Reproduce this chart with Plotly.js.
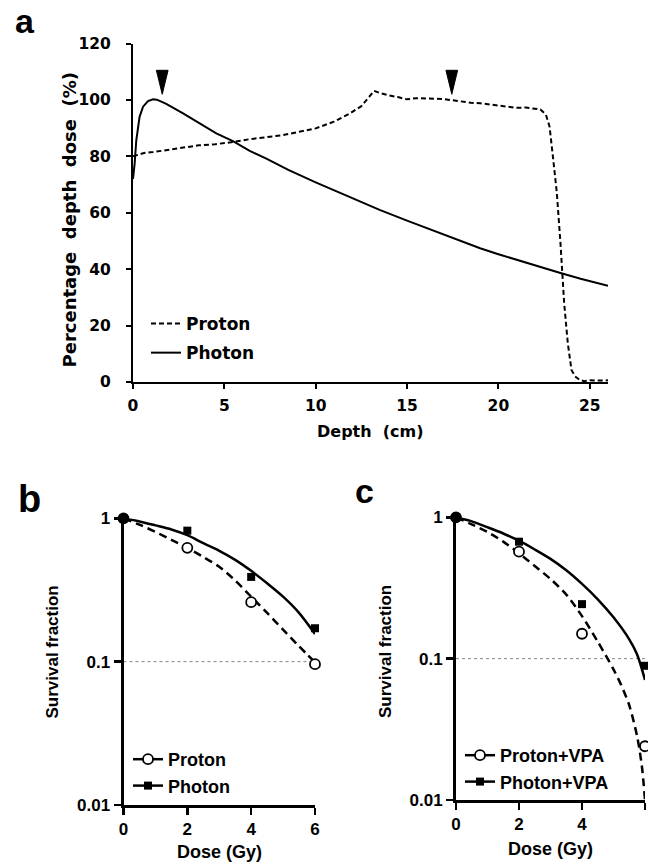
<!DOCTYPE html>
<html>
<head>
<meta charset="utf-8">
<script src="https://cdn.plot.ly/plotly-3.0.1.min.js"></script>
<style>html,body{margin:0;padding:0;background:#fff;}#chart{width:648px;height:862px;}</style>
</head>
<body>
<div id="chart"></div>
<script>
// ---------- Panel a: depth-dose data ----------
const protonDepth = [0, 0.3, 0.6, 1.1, 1.8, 2.7, 3.6, 4.5, 5.5, 6.4, 7.3, 8.2, 9.1, 10, 11, 11.9, 12.5, 12.9, 13.2, 13.5, 14, 14.5, 15, 15.5, 16, 16.5, 17, 17.5, 18, 18.5, 19, 19.5, 20, 20.5, 21, 21.5, 22, 22.3, 22.6, 22.8, 23.0, 23.2, 23.4, 23.6, 23.8, 24.0, 24.2, 24.45, 24.7, 25, 25.5, 26];
const protonDose  = [80, 80.5, 81.2, 81.5, 82.1, 83.1, 83.9, 84.3, 85.1, 86.1, 86.7, 87.5, 88.7, 89.9, 92.3, 95.3, 97.8, 101, 103.2, 102.5, 101.6, 101, 100.2, 100.6, 100.6, 100.4, 100.3, 99.8, 99.3, 99, 98.8, 98.4, 97.9, 97.5, 97.2, 97.3, 97.0, 96.6, 94.8, 90.6, 79, 67, 49, 28, 13.7, 4.3, 2, 0.7, 0.3, 0.6, 0.5, 0.6];
const photonDepth = [0, 0.09, 0.18, 0.36, 0.55, 0.82, 1.1, 1.3, 1.55, 1.82, 2.74, 3.65, 4.56, 5.47, 6.39, 7.3, 8.5, 10, 11.5, 12.5, 13.5, 15, 16.5, 18, 19, 20, 21.5, 22.5, 23.35, 24.5, 26];
const photonDose  = [72, 77.4, 85.7, 94, 97.6, 99.6, 100.2, 100.1, 99.4, 98.6, 95.2, 91.7, 88.1, 85.4, 81.9, 79.2, 75.2, 70.8, 66.5, 63.6, 61, 57.2, 53.6, 50, 47.4, 45.3, 42.3, 40.3, 38.7, 36.6, 34.1];
const arrowDepth = [1.6, 17.45];
const arrowTop = 110.5, arrowTip = 102;
const depthTicks = [0, 5, 10, 15, 20, 25];
const pddTicks = [0, 20, 40, 60, 80, 100, 120];

// ---------- Panels b, c: survival data ----------
const doseTicks = [0, 2, 4, 6];
const sfTicks = [0.01, 0.1, 1];
const sfTickText = ['0.01', '0.1', '1'];
const refLevel = 0.1;
const pointDose = [0, 2, 4, 6];
// b: measured points
const bProtonSF = [1, 0.622, 0.26, 0.096];
const bPhotonSF = [1, 0.82, 0.39, 0.171];
// b: fitted curves
const curveDose = [0, 0.5, 1, 1.5, 2, 2.5, 3, 3.5, 4, 4.5, 5, 5.5, 6];
const bProtonFit = [1, 0.902, 0.804, 0.708, 0.622, 0.537, 0.459, 0.368, 0.284, 0.219, 0.167, 0.128, 0.099];
const bPhotonFit = [1, 0.951, 0.893, 0.836, 0.762, 0.670, 0.593, 0.513, 0.430, 0.352, 0.284, 0.219, 0.156];
// c: measured points
const cProtonSF = [1, 0.571, 0.150, 0.024];
const cPhotonSF = [1, 0.672, 0.243, 0.089];
// c: fitted curves
const cProtonDose = [0, 0.5, 1, 1.5, 2, 2.5, 3, 3.5, 4, 4.5, 5, 5.25, 5.5, 5.75, 5.9, 6];
const cProtonFit  = [1, 0.891, 0.787, 0.673, 0.556, 0.452, 0.366, 0.284, 0.200, 0.132, 0.084, 0.0646, 0.0468, 0.0282, 0.0174, 0.01];
const cPhotonDose = [0, 0.5, 1, 1.5, 2, 2.5, 3, 3.5, 4, 4.5, 5, 5.5, 5.75, 6];
const cPhotonFit  = [1, 0.935, 0.850, 0.768, 0.683, 0.592, 0.508, 0.422, 0.338, 0.263, 0.196, 0.137, 0.107, 0.0707];

const W = 648, H = 862;
const px = x => x / W;
const py = y => 1 - y / H;
const fA = 'DejaVu Sans, sans-serif';
const fB = 'Liberation Sans, Arial, sans-serif';
const fontA = s => ({family: fA, size: s, color: '#000', weight: 700});
const fontB = s => ({family: fB, size: s, color: '#000', weight: 700});

// arrow triangles built from arrowDepth
const arrX = [], arrY = [];
arrowDepth.forEach(d => { arrX.push(d - 0.32, d + 0.32, d, d - 0.32, null); arrY.push(arrowTop, arrowTop, arrowTip, arrowTop, null); });

const traces = [
  {x: protonDepth, y: protonDose, name: 'Proton', mode: 'lines', line: {color: '#000', width: 2, dash: '5px,3px'}, xaxis: 'x', yaxis: 'y', legend: 'legend', legendgroup: 'a1', cliponaxis: false},
  {x: photonDepth, y: photonDose, name: 'Photon', mode: 'lines', line: {color: '#000', width: 2}, xaxis: 'x', yaxis: 'y', legend: 'legend', legendgroup: 'a2', cliponaxis: false},
  {x: arrX, y: arrY, mode: 'lines', fill: 'toself', fillcolor: '#000', line: {color: '#000', width: 1}, xaxis: 'x', yaxis: 'y', showlegend: false, hoverinfo: 'skip', cliponaxis: false},

  // panel b
  {x: [0, 6], y: [refLevel, refLevel], mode: 'lines', line: {color: '#888', width: 1, dash: 'dot'}, xaxis: 'x2', yaxis: 'y2', showlegend: false, hoverinfo: 'skip'},
  {x: curveDose, y: bProtonFit, mode: 'lines', line: {color: '#000', width: 2.5, dash: '8px,5px', shape: 'spline', smoothing: 0.8}, xaxis: 'x2', yaxis: 'y2', showlegend: false, cliponaxis: false},
  {x: curveDose, y: bPhotonFit, mode: 'lines', line: {color: '#000', width: 2.5, shape: 'spline', smoothing: 0.8}, xaxis: 'x2', yaxis: 'y2', showlegend: false, cliponaxis: false},
  {x: pointDose, y: bPhotonSF, mode: 'markers', marker: {symbol: 'square', size: 8, color: '#000'}, xaxis: 'x2', yaxis: 'y2', showlegend: false, cliponaxis: false},
  {x: pointDose, y: bProtonSF, mode: 'markers', marker: {symbol: 'circle', size: 10, color: ['#000', '#fff', '#fff', '#fff'], line: {color: '#000', width: 1.8}}, xaxis: 'x2', yaxis: 'y2', showlegend: false, cliponaxis: false},
  {x: [null], y: [null], name: 'Proton', mode: 'lines+markers', line: {color: '#000', width: 2.5}, marker: {symbol: 'circle', size: 10, color: '#fff', line: {color: '#000', width: 1.8}}, xaxis: 'x2', yaxis: 'y2', legend: 'legend2', legendgroup: 'b1'},
  {x: [null], y: [null], name: 'Photon', mode: 'lines+markers', line: {color: '#000', width: 2.5}, marker: {symbol: 'square', size: 8, color: '#000'}, xaxis: 'x2', yaxis: 'y2', legend: 'legend2', legendgroup: 'b2'},

  // panel c
  {x: [0, 6], y: [refLevel, refLevel], mode: 'lines', line: {color: '#888', width: 1, dash: 'dot'}, xaxis: 'x3', yaxis: 'y3', showlegend: false, hoverinfo: 'skip'},
  {x: cProtonDose, y: cProtonFit, mode: 'lines', line: {color: '#000', width: 2.5, dash: '8px,5px', shape: 'spline', smoothing: 0.8}, xaxis: 'x3', yaxis: 'y3', showlegend: false, cliponaxis: false},
  {x: cPhotonDose, y: cPhotonFit, mode: 'lines', line: {color: '#000', width: 2.5, shape: 'spline', smoothing: 0.8}, xaxis: 'x3', yaxis: 'y3', showlegend: false, cliponaxis: false},
  {x: pointDose, y: cPhotonSF, mode: 'markers', marker: {symbol: 'square', size: 8, color: '#000'}, xaxis: 'x3', yaxis: 'y3', showlegend: false, cliponaxis: false},
  {x: pointDose, y: cProtonSF, mode: 'markers', marker: {symbol: 'circle', size: 10, color: ['#000', '#fff', '#fff', '#fff'], line: {color: '#000', width: 1.8}}, xaxis: 'x3', yaxis: 'y3', showlegend: false, cliponaxis: false},
  {x: [null], y: [null], name: 'Proton+VPA', mode: 'lines+markers', line: {color: '#000', width: 2.5}, marker: {symbol: 'circle', size: 10, color: '#fff', line: {color: '#000', width: 1.8}}, xaxis: 'x3', yaxis: 'y3', legend: 'legend3', legendgroup: 'c1'},
  {x: [null], y: [null], name: 'Photon+VPA', mode: 'lines+markers', line: {color: '#000', width: 2.5}, marker: {symbol: 'square', size: 8, color: '#000'}, xaxis: 'x3', yaxis: 'y3', legend: 'legend3', legendgroup: 'c2'}
];

const axA = {showline: true, linecolor: '#000', linewidth: 2, ticks: 'outside', ticklen: 5, tickwidth: 2, tickcolor: '#000', showgrid: false, zeroline: false, tickfont: fontA(15.5), fixedrange: true};
const axB = {showline: true, linecolor: '#000', linewidth: 3, ticks: 'outside', ticklen: 7, tickwidth: 2.5, tickcolor: '#000', showgrid: false, zeroline: false, tickfont: fontB(17), fixedrange: true};

function note(text, x, y, font, angle) {
  return {text: text, x: px(x), y: py(y), xref: 'paper', yref: 'paper', xanchor: 'center', yanchor: 'middle', showarrow: false, textangle: angle || 0, font: font};
}

const layout = {
  width: W, height: H,
  margin: {l: 0, r: 0, t: 0, b: 0},
  paper_bgcolor: '#fff', plot_bgcolor: 'rgba(0,0,0,0)',
  showlegend: true,
  xaxis: Object.assign({}, axA, {domain: [px(133), px(608)], anchor: 'y', range: [0, 26], tickvals: depthTicks, ticklabelstandoff: 3}),
  yaxis: Object.assign({}, axA, {domain: [py(382), py(43.5)], anchor: 'x', range: [0, 120], tickvals: pddTicks, ticklabelstandoff: 12}),
  xaxis2: Object.assign({}, axB, {domain: [px(123.5), px(315)], anchor: 'y2', range: [0, 6], tickvals: doseTicks}),
  yaxis2: Object.assign({}, axB, {domain: [py(805), py(518.3)], anchor: 'x2', type: 'log', range: [-2, 0], tickvals: sfTicks, ticktext: sfTickText}),
  xaxis3: Object.assign({}, axB, {domain: [px(456), px(645)], anchor: 'y3', range: [0, 6], tickvals: doseTicks}),
  yaxis3: Object.assign({}, axB, {domain: [py(800), py(517.3)], anchor: 'x3', type: 'log', range: [-2, 0], tickvals: sfTicks, ticktext: sfTickText}),
  legend: {x: px(146), y: py(306), xanchor: 'left', yanchor: 'top', bgcolor: 'rgba(0,0,0,0)', font: fontA(17), tracegroupgap: 4},
  legend2: {x: px(128), y: py(741), xanchor: 'left', yanchor: 'top', bgcolor: 'rgba(0,0,0,0)', font: fontB(18), tracegroupgap: 0},
  legend3: {x: px(460), y: py(737), xanchor: 'left', yanchor: 'top', bgcolor: 'rgba(0,0,0,0)', font: fontB(18), tracegroupgap: 0},
  annotations: [
    note('a', 25, 21, fontB(34)),
    note('b', 29, 499, fontB(38)),
    note('c', 365, 491, fontB(34)),
    note('Percentage  depth  dose  (%)', 68.5, 220, fontA(18), -90),
    note('Depth  (cm)', 370, 431, fontA(16)),
    note('Survival fraction', 52, 652.5, fontB(17), -90),
    note('Dose (Gy)', 219, 852, fontB(18)),
    note('Survival fraction', 385.5, 651.5, fontB(17), -90),
    note('Dose (Gy)', 550.5, 849, fontB(18))
  ]
};

Plotly.newPlot('chart', traces, layout, {displayModeBar: false, staticPlot: true});
</script>
</body>
</html>
